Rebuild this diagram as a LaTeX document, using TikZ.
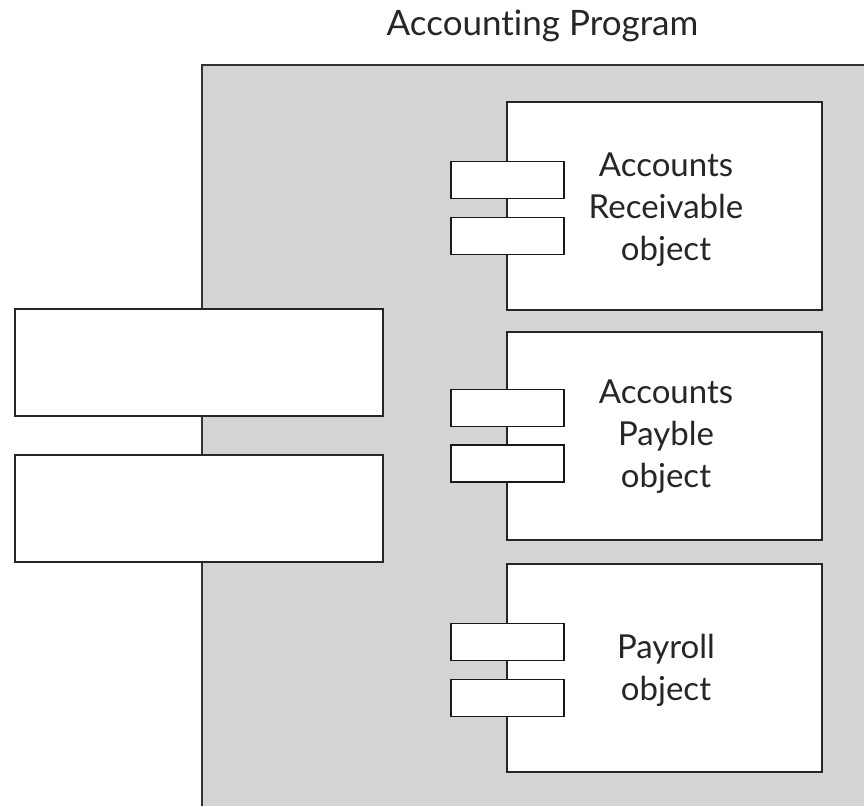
\documentclass[tikz,border=0pt]{standalone}
\usepackage{fontspec}
\setmainfont{Lato}[Ligatures={NoCommon}]
\begin{document}
\begin{tikzpicture}[x=1pt,y=-1pt,
  every node/.style={inner sep=0pt, outer sep=0pt},
  frame/.style={draw=black!80, line width=2pt},
  box/.style={draw=black!85, line width=1.8pt, fill=white},
  port/.style={draw=black!90, line width=1.6pt, fill=white},
  lbl/.style={font=\fontsize{33}{42}\selectfont, text=black!85, align=center}]
\useasboundingbox (0,0) rectangle (864,806);
% big gray component
\fill[black!17] (202,65) rectangle (864,806);
\draw[frame] (202,806) -- (202,65) -- (864,65);
\node[lbl, font=\fontsize{35}{42}\selectfont, anchor=base] (title) at (542.5,35) {Account\kern0pt ing Program};
% left interface boxes
\draw[box] (15,309) rectangle (383,416) coordinate (l1);
\draw[box] (15,455) rectangle (383,562) coordinate (l2);
% inner components
\node[box, minimum width=315pt, minimum height=208pt] (c1) at (664.5,206) {};
\node[box, minimum width=315pt, minimum height=208pt] (c2) at (664.5,436) {};
\node[box, minimum width=315pt, minimum height=208pt] (c3) at (664.5,668) {};
\node[lbl] (t1) at (666,210) {Accounts\\Receivable\\object};
\node[lbl] (t2) at (666,437) {Accounts\\Payble\\object};
\node[lbl] (t3) at (666,670) {Payroll\\object};
% ports
\tikzset{portbox/.style={port, minimum width=113pt, minimum height=37pt}}
\node[portbox] (p1a) at (507.5,180) {};
\node[portbox] (p1b) at (507.5,236) {};
\node[portbox] (p2a) at (507.5,408) {};
\node[portbox] (p2b) at (507.5,463.5) {};
\node[portbox] (p3a) at (507.5,642) {};
\node[portbox] (p3b) at (507.5,698) {};
\end{tikzpicture}
\end{document}
